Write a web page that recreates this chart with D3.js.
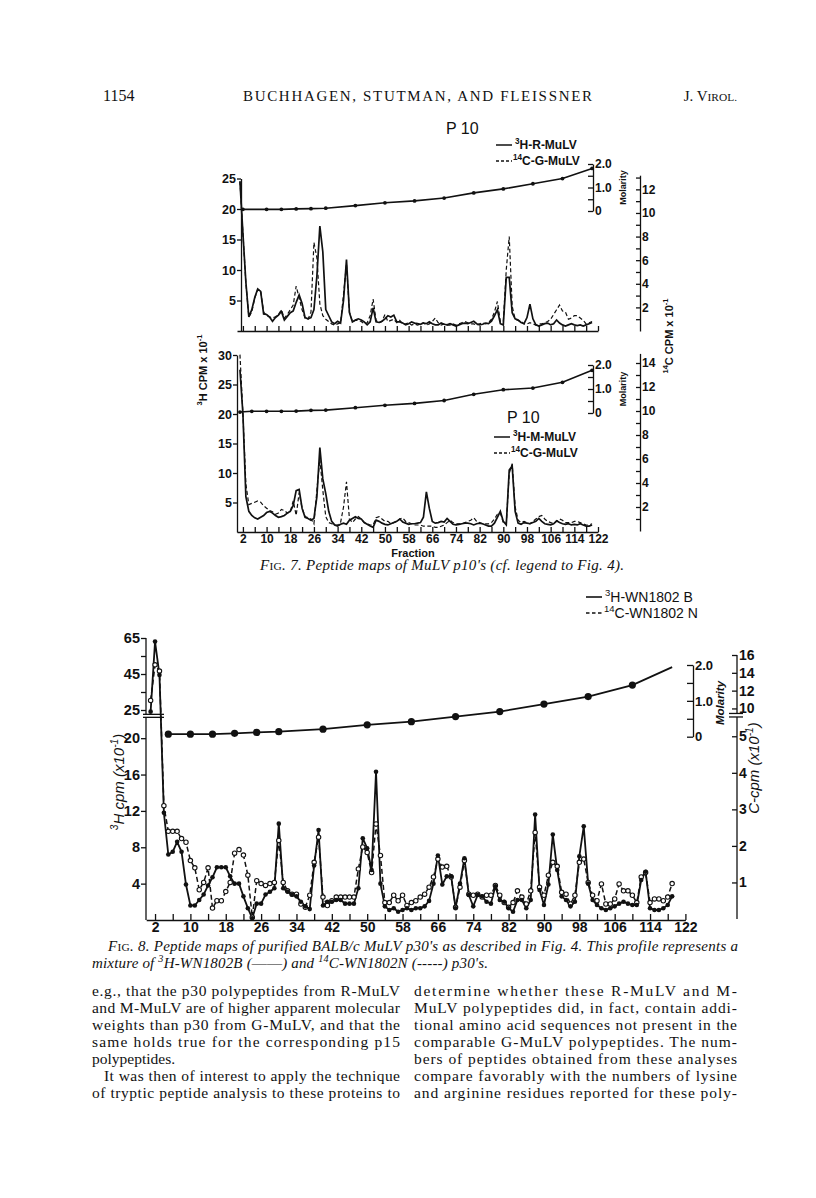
<!DOCTYPE html>
<html>
<head>
<meta charset="utf-8">
<script src="https://cdn.jsdelivr.net/npm/d3@7"></script>
<style>
  body { margin: 0; background: #fff; }
  svg { display: block; }
</style>
</head>
<body>
<svg id="page" width="816" height="1198"></svg>
<script>
// ---------- data ----------
// Fig. 7 top panel (P10, R-MuLV vs G-MuLV), fractions 1..120
var frac7 = d3.range(1, 121);
var rH3 = [24.5,16,8,2.3,3.5,5.5,6.9,6.5,2.8,2.7,
  2.3,1.6,2.2,2.6,3.2,1.8,2.4,3.0,3.3,4.7,
  5.9,4.5,2.2,2.0,2.2,3.5,9,17.2,13,3.5,
  2.5,1.5,1.2,1.6,1.3,5,11.7,3,1.5,1.8,
  2.0,1.8,1.5,1.0,1.5,3.8,1.5,1.4,1.6,2.0,
  2.5,2.3,2.6,1.5,1.5,1.3,1.0,1.2,1.5,1.3,
  1.2,1.1,1.3,1.2,1.5,1.2,1.0,1.0,1.3,1.1,
  1.0,1.2,1.0,0.8,1.0,1.2,1.3,1.2,1.4,1.6,
  1.2,1.0,1.1,1.3,1.2,1.6,2.5,3.5,1.2,1.0,
  8.8,8.8,3.0,2.0,1.8,1.4,1.2,2.2,4.4,2.0,
  1.0,0.8,1.0,1.2,1.3,1.0,1.2,1.8,1.3,1.0,
  0.8,1.0,1.2,1.0,0.9,1.0,0.8,1.0,1.2,1.4];
var rC14 = [12.7,8.3,4.1,1.2,1.6,2.8,3.5,3.4,1.6,1.3,
  1.2,1.1,1.2,1.4,1.8,1.1,1.4,1.8,2.2,3.8,
  2.8,1.8,1.1,1.0,1.6,7.5,6.2,2.3,1.3,1.0,
  0.8,0.6,0.5,0.6,0.7,3.1,5.7,1.6,0.8,0.9,
  0.9,0.8,0.6,0.7,1.3,2.7,0.9,0.7,0.8,1.4,
  0.8,0.9,1.0,0.7,0.9,0.6,0.6,0.7,0.5,0.6,
  0.5,0.6,0.7,0.5,0.6,0.8,1.1,0.7,0.5,0.6,
  0.5,0.5,0.6,0.5,0.6,0.7,0.8,0.7,0.6,0.6,
  0.5,0.6,0.7,0.6,0.7,1.0,1.6,2.5,0.8,0.8,
  5.2,8.0,2.1,1.0,0.9,0.8,0.6,0.6,0.7,0.6,
  0.5,0.6,0.6,0.7,0.8,1.0,1.4,1.8,2.2,1.7,
  1.6,1.0,1.1,1.3,1.3,1.1,0.9,0.6,0.7,0.8];
var molFrac7a = [2,10,15,20,25,30,40,50,60,70,80,90,100,110,120];
var molVal7a = [0.07,0.07,0.07,0.09,0.10,0.12,0.23,0.35,0.43,0.55,0.77,0.94,1.16,1.38,1.81];

// Fig. 7 bottom panel (P10, M-MuLV vs G-MuLV)
var mH3 = [27.5,20,6,3.5,2.8,2.4,2.2,2.5,2.8,3.3,
  3.5,3.2,2.8,2.5,2.6,2.8,3.2,3.5,4.5,7.0,
  7.2,4.0,2.5,2.3,2.0,2.3,6,14.3,9,6.5,
  3.5,1.8,1.2,1.0,1.3,1.5,1.3,2.0,2.3,2.6,
  2.3,2.2,1.6,1.3,1.0,0.8,2.0,1.8,1.5,1.3,
  1.2,1.4,1.6,1.8,2.2,1.7,1.5,1.3,1.4,1.4,
  1.5,1.6,2.5,6.8,4,1.8,1.5,1.6,1.8,1.7,
  2.3,1.8,1.3,1.2,1.3,1.4,1.5,1.5,1.4,1.2,
  1.4,1.5,1.4,1.2,1.0,1.0,1.5,2.5,3.5,1.8,
  1.2,10.5,11.2,3.5,1.5,1.3,1.6,1.5,1.4,1.6,
  1.8,2.3,1.8,1.4,1.3,1.2,1.4,1.9,1.6,1.4,
  1.3,1.4,1.2,1.3,1.2,1.4,1.2,1.0,1.0,1.2];
var mC14 = [14.7,9.8,3.9,2.2,2.3,2.4,2.5,2.4,2.1,1.9,
  1.7,1.6,1.4,1.5,1.8,1.7,1.5,1.6,2.5,1.3,
  3.2,1.9,1.2,1.1,1.0,0.6,3.4,6.0,3.4,1.2,
  0.7,0.6,0.5,0.5,0.7,2.0,4.1,1.0,0.7,1.0,
  1.2,1.0,0.7,0.6,0.5,0.5,1.1,1.2,1.0,0.8,
  0.8,0.6,0.7,0.8,1.0,1.1,0.8,0.7,0.6,0.5,
  0.5,0.5,0.4,0.4,0.4,0.4,0.3,0.3,0.4,0.5,
  0.7,0.9,0.7,0.6,0.6,0.6,0.7,0.8,0.9,1.1,
  0.8,0.7,0.6,0.6,0.6,0.7,1.0,1.4,1.5,0.7,
  0.6,4.8,5.6,2.0,0.9,0.7,0.8,0.7,0.6,0.8,
  1.0,1.2,1.3,1.0,0.8,0.7,0.6,0.8,1.0,0.9,
  0.7,0.7,0.7,0.8,0.8,0.7,0.6,0.5,0.5,0.6];
var molFrac7b = [1,5,10,15,20,25,30,40,50,60,70,80,90,100,110,120];
var molVal7b = [0.04,0.07,0.07,0.07,0.08,0.11,0.12,0.22,0.32,0.40,0.52,0.78,0.97,1.04,1.28,1.78];

// Fig. 8 (p30, WN1802 B vs WN1802 N), fractions 1..119
var frac8 = d3.range(1, 120);
var bH3 = [24.5,63,44.5,11.8,7.2,7.5,8.6,7.5,3.9,1.6,
  1.6,2.2,2.8,3.8,4.7,5.8,5.8,5.8,4.8,4.0,
  4.0,2.6,1.3,0.2,1.8,1.8,2.8,3.1,3.5,10.6,
  3.5,3.1,2.8,2.6,2.0,1.5,1.2,6.0,9.9,1.6,
  2.0,2.0,2.2,2.2,1.8,1.8,1.8,3.5,9.0,7.9,
  5.5,16.3,4.0,1.5,1.1,1.3,0.9,1.1,1.3,1.1,
  1.3,1.3,1.5,2.1,4.0,7.1,3.9,4.8,4.8,1.3,
  4.0,6.8,2.75,1.5,2.75,2.6,2.0,1.8,3.7,2.2,
  2.0,1.3,0.9,2.2,2.2,1.3,2.2,11.6,3.3,1.65,
  3.9,9.4,5.5,2.6,2.2,1.5,2.0,7.0,10.3,4.0,
  2.2,1.65,1.3,1.1,1.3,1.5,1.8,2.0,1.8,1.65,
  1.65,4.4,5.3,1.3,1.1,1.1,1.3,1.65,2.6];
var nC14 = [10.9,14.9,14.2,3.1,2.4,2.4,2.4,2.2,2.1,1.6,
  1.4,0.8,1.0,1.4,0.3,0.5,0.5,0.75,1.0,1.8,
  1.9,1.75,1.2,0.05,1.05,0.97,0.92,0.97,1.0,2.15,
  1.0,0.77,0.68,0.68,0.41,0.32,0.65,1.55,2.24,0.6,
  0.37,0.5,0.6,0.6,0.6,0.6,0.6,1.37,1.97,1.82,
  1.27,2.6,1.74,0.45,0.45,0.65,0.5,0.65,0.37,0.45,
  0.5,0.6,0.68,0.87,1.15,1.64,1.42,1.44,1.15,0.32,
  0.87,1.6,0.68,0.65,0.68,0.6,0.65,0.65,0.92,0.65,
  0.45,0.32,0.45,0.77,0.6,0.41,0.77,2.37,0.87,0.65,
  1.2,1.55,1.44,0.73,0.68,0.41,0.65,1.55,1.64,1.0,
  0.65,0.5,0.96,0.41,0.41,0.55,0.96,0.77,0.77,0.65,
  0.45,1.15,1.27,0.45,0.55,0.55,0.5,0.6,0.97];
var molFrac8 = [5,10,15,20,25,30,40,50,60,70,80,90,100,110,119];
var molVal8 = [0.07,0.07,0.07,0.095,0.12,0.14,0.21,0.33,0.42,0.56,0.70,0.91,1.12,1.44,1.94];

// tick labels
var fracTicks = d3.range(2, 123, 4);
var fracLabels = d3.range(2, 123, 8);

var SANS = "'Liberation Sans', Arial, sans-serif";
var SERIF = "'Liberation Serif', 'Times New Roman', serif";

var svg = d3.select("#page");
svg.append("rect").attr("width", 816).attr("height", 1198).attr("fill", "#fff");

// text helper: parts are strings or {t, sup, sc}
function addText(g, x, y, parts, o) {
  o = o || {};
  var size = o.size || 14;
  var t = g.append("text")
    .attr("x", x).attr("y", y)
    .attr("font-family", o.family || SANS)
    .attr("font-size", size)
    .attr("fill", "#111")
    .attr("text-anchor", o.anchor || "start");
  if (o.italic) t.attr("font-style", "italic");
  if (o.weight) t.attr("font-weight", o.weight);
  if (o.rotate) t.attr("transform", "rotate(" + o.rotate + "," + x + "," + y + ")");
  if (o.len) t.attr("textLength", o.len).attr("lengthAdjust", "spacing");
  var shift = 0;
  parts.forEach(function (p) {
    var s = typeof p === "string" ? { t: p } : p;
    var ts = t.append("tspan").text(s.t);
    var want = s.sup ? -size * 0.42 : 0;
    if (want !== shift) { ts.attr("dy", want - shift); shift = want; }
    if (s.sup) ts.attr("font-size", size * 0.68);
    if (s.sc) ts.attr("font-size", size * 0.76).attr("font-style", "normal");
    if (s.up) ts.attr("font-style", "normal");
  });
  return t;
}

function styleAxis(g, size, weight) {
  g.attr("font-family", SANS).attr("font-size", size);
  g.selectAll("text").attr("fill", "#111").attr("font-weight", weight || "normal");
  g.selectAll("line, path").attr("stroke", "#111").attr("stroke-width", 1.3);
}

// ---------- header ----------
addText(svg, 103, 101, ["1154"], { family: SERIF, size: 16 });
addText(svg, 243, 101, ["BUCHHAGEN, STUTMAN, AND FLEISSNER"], { family: SERIF, size: 15, len: 349 });
addText(svg, 737, 101, ["J. V", { t: "IROL.", sc: true }], { family: SERIF, size: 15, anchor: "end" });

// ---------- Fig. 7 ----------
var x7 = d3.scaleLinear().domain([0, 122]).range([237, 598]);

function peptidePanel(cfg) {
  var g = svg.append("g");
  // left 3H axis
  var la = g.append("g").attr("transform", "translate(" + cfg.leftX + ",0)")
    .call(d3.axisLeft(cfg.yL).tickValues(cfg.leftTicks).tickSize(4).tickSizeOuter(0).tickPadding(1));
  styleAxis(la, 12.5, 600);
  // x axis, ticks pointing up
  var xa = g.append("g").attr("transform", "translate(0," + cfg.yL(0) + ")")
    .call(d3.axisBottom(x7).tickValues(fracTicks).tickSize(-5).tickSizeOuter(0).tickPadding(2.5)
      .tickFormat(function (d) { return cfg.labels && fracLabels.indexOf(d) >= 0 ? d : ""; }));
  styleAxis(xa, 12, 600);
  // right 14C axis
  var ra = g.append("g").attr("transform", "translate(640,0)")
    .call(d3.axisRight(cfg.yR).tickValues(d3.range(1, cfg.rightMax + 1)).tickSize(-4).tickSizeOuter(0).tickPadding(2)
      .tickFormat(function (d) { return d % 2 === 0 ? d : ""; }));
  styleAxis(ra, 12, 600);
  // molarity axis
  var ma = g.append("g").attr("transform", "translate(593,0)")
    .call(d3.axisRight(cfg.m).tickValues([0, 0.5, 1, 1.5, 2]).tickSize(-5).tickSizeOuter(0).tickPadding(2)
      .tickFormat(function (d) { return d === 0 ? "0" : (d % 1 === 0 ? d.toFixed(1) : ""); }));
  styleAxis(ma, 12, 600);
  addText(g, 626, (cfg.m(0) + cfg.m(2)) / 2, ["Molarity"], { size: 9, weight: 700, anchor: "middle", rotate: -90 });

  // salt gradient
  var mol = cfg.molFrac.map(function (f, i) { return { f: f, v: cfg.molVal[i] }; });
  g.append("path").datum(mol)
    .attr("d", d3.line().x(function (d) { return x7(d.f); }).y(function (d) { return cfg.m(d.v); }))
    .attr("fill", "none").attr("stroke", "#111").attr("stroke-width", 1.6);
  g.selectAll(".md").data(mol).enter().append("circle")
    .attr("cx", function (d) { return x7(d.f); }).attr("cy", function (d) { return cfg.m(d.v); })
    .attr("r", 1.9).attr("fill", "#111");

  // 3H solid, 14C dashed
  var h = frac7.map(function (f, i) { return { f: f, v: cfg.h[i] }; });
  var c = frac7.map(function (f, i) { return { f: f, v: cfg.c[i] }; });
  g.append("path").datum(c)
    .attr("d", d3.line().x(function (d) { return x7(d.f); }).y(function (d) { return cfg.yR(d.v); }))
    .attr("fill", "none").attr("stroke", "#111").attr("stroke-width", 1.2).attr("stroke-dasharray", "4,2.5");
  g.append("path").datum(h)
    .attr("d", d3.line().x(function (d) { return x7(d.f); }).y(function (d) { return cfg.yL(d.v); }))
    .attr("fill", "none").attr("stroke", "#111").attr("stroke-width", 1.7);

  // legend
  var lx = cfg.legX, ly = cfg.legY;
  addText(g, cfg.titleX, cfg.titleY, ["P", " 10"], { size: 16 });
  g.append("line").attr("x1", lx).attr("x2", lx + 16).attr("y1", ly).attr("y2", ly)
    .attr("stroke", "#111").attr("stroke-width", 1.5);
  addText(g, lx + 19, ly + 4, [{ t: "3", sup: true }, cfg.hName], { size: 12, weight: 600 });
  g.append("line").attr("x1", lx).attr("x2", lx + 16).attr("y1", ly + 16).attr("y2", ly + 16)
    .attr("stroke", "#111").attr("stroke-width", 1.3).attr("stroke-dasharray", "3,2");
  addText(g, lx + 17, ly + 20, [{ t: "14", sup: true }, "C-G-MuLV"], { size: 12, weight: 600 });
  return g;
}

peptidePanel({
  yL: d3.scaleLinear().domain([0, 25]).range([331, 178.5]),
  yR: d3.scaleLinear().domain([0, 13.2]).range([331, 175.2]),
  m: d3.scaleLinear().domain([0, 2]).range([211, 164]),
  leftX: 241, leftTicks: [5, 10, 15, 20, 25], rightMax: 13, labels: false,
  molFrac: molFrac7a, molVal: molVal7a, h: rH3, c: rC14, hName: "H-R-MuLV",
  titleX: 446, titleY: 134, legX: 496, legY: 145
});
peptidePanel({
  yL: d3.scaleLinear().domain([0, 30]).range([532, 355]),
  yR: d3.scaleLinear().domain([0, 14.8]).range([531, 353.4]),
  m: d3.scaleLinear().domain([0, 2]).range([413, 365]),
  leftX: 237, leftTicks: [5, 10, 15, 20, 25, 30], rightMax: 14, labels: true,
  molFrac: molFrac7b, molVal: molVal7b, h: mH3, c: mC14, hName: "H-M-MuLV",
  titleX: 507, titleY: 423, legX: 494, legY: 437
});

addText(svg, 413, 557, ["Fraction"], { size: 11, weight: 700, anchor: "middle" });
addText(svg, 207, 370, [{ t: "3", sup: true }, "H   CPM x 10", { t: "-1", sup: true }], { size: 11, weight: 700, anchor: "middle", rotate: -90 });
addText(svg, 673, 336, [{ t: "14", sup: true }, "C    CPM x 10", { t: "-1", sup: true }], { size: 11, weight: 700, anchor: "middle", rotate: -90 });

addText(svg, 260, 570, ["F", { t: "IG", sc: true }, ". 7. Peptide maps of MuLV p10's (cf. legend to Fig. 4)."],
  { family: SERIF, size: 15, italic: true, len: 364 });

// ---------- Fig. 8 ----------
var x8 = d3.scaleLinear().domain([0, 122]).range([146.2, 685.4]);
// broken axes: lower and upper parts joined through a gap
var y8L = d3.scaleLinear().domain([0, 22, 25, 65]).range([920, 720, 710, 638]);
var y8R = d3.scaleLinear().domain([0, 5.5, 9.6, 16]).range([919, 718, 712, 655]);
var m8 = d3.scaleLinear().domain([0, 2]).range([736.7, 665]);

var f8 = svg.append("g");

var la8 = f8.append("g").attr("transform", "translate(146,0)")
  .call(d3.axisLeft(y8L).tickValues([4, 8, 12, 16, 20, 25, 35, 45, 55, 65]).tickSize(5).tickPadding(1)
    .tickFormat(function (d) { return (d === 35 || d === 55) ? "" : d; }));
styleAxis(la8, 14.5, 600);
la8.select(".domain").remove();
f8.append("line").attr("x1", 146).attr("x2", 146).attr("y1", y8L(0)).attr("y2", y8L(22.8))
  .attr("stroke", "#111").attr("stroke-width", 1.3);
f8.append("line").attr("x1", 146).attr("x2", 146).attr("y1", y8L(23.7)).attr("y2", y8L(65))
  .attr("stroke", "#111").attr("stroke-width", 1.3);
[22.8, 23.7].forEach(function (b) {
  f8.append("line").attr("x1", 143).attr("x2", 164).attr("y1", y8L(b)).attr("y2", y8L(b))
    .attr("stroke", "#111").attr("stroke-width", 1.3);
});

var ra8 = f8.append("g").attr("transform", "translate(737,0)")
  .call(d3.axisRight(y8R).tickValues([1, 2, 3, 4, 5, 10, 12, 14, 16]).tickSize(-5).tickPadding(2));
styleAxis(ra8, 14, 600);
ra8.select(".domain").remove();
f8.append("line").attr("x1", 737).attr("x2", 737).attr("y1", y8R(0)).attr("y2", y8R(6.2))
  .attr("stroke", "#111").attr("stroke-width", 1.3);
f8.append("line").attr("x1", 737).attr("x2", 737).attr("y1", y8R(8.6)).attr("y2", y8R(16))
  .attr("stroke", "#111").attr("stroke-width", 1.3);
[6.2, 8.6].forEach(function (b) {
  f8.append("line").attr("x1", 729).attr("x2", 743).attr("y1", y8R(b)).attr("y2", y8R(b))
    .attr("stroke", "#111").attr("stroke-width", 1.3);
});

var xa8 = f8.append("g").attr("transform", "translate(0,920)")
  .call(d3.axisBottom(x8).tickValues(fracTicks).tickSize(-6).tickSizeOuter(0).tickPadding(2)
    .tickFormat(function (d) { return fracLabels.indexOf(d) >= 0 ? d : ""; }));
styleAxis(xa8, 14, 600);

var ma8 = f8.append("g").attr("transform", "translate(693,0)")
  .call(d3.axisRight(m8).tickValues([0, 0.5, 1, 1.5, 2]).tickSize(-6).tickSizeOuter(0).tickPadding(2)
    .tickFormat(function (d) { return d === 0 ? "0" : (d % 1 === 0 ? d.toFixed(1) : ""); }));
styleAxis(ma8, 13, 600);

addText(f8, 724, 703, ["Molarity"], { size: 11.5, weight: 700, italic: true, anchor: "middle", rotate: -90 });
addText(f8, 124, 782, [{ t: "3", sup: true }, "H cpm (x10", { t: "-1", sup: true }, ")"], { size: 15, italic: true, anchor: "middle", rotate: -90 });
addText(f8, 759, 768, ["C-cpm (x10", { t: "-1", sup: true }, ")"], { size: 15, italic: true, anchor: "middle", rotate: -90 });

// gradient
var mol8 = molFrac8.map(function (f, i) { return { f: f, v: molVal8[i] }; });
f8.append("path").datum(mol8)
  .attr("d", d3.line().x(function (d) { return x8(d.f); }).y(function (d) { return m8(d.v); }))
  .attr("fill", "none").attr("stroke", "#111").attr("stroke-width", 1.8);
f8.selectAll(".m8").data(mol8.slice(0, mol8.length - 1)).enter().append("circle")
  .attr("cx", function (d) { return x8(d.f); }).attr("cy", function (d) { return m8(d.v); })
  .attr("r", 3.6).attr("fill", "#111");

var dN = frac8.map(function (f, i) { return { f: f, v: nC14[i] }; });
var dB = frac8.map(function (f, i) { return { f: f, v: bH3[i] }; });
f8.append("path").datum(dN)
  .attr("d", d3.line().x(function (d) { return x8(d.f); }).y(function (d) { return y8R(d.v); }))
  .attr("fill", "none").attr("stroke", "#111").attr("stroke-width", 1.5).attr("stroke-dasharray", "5,3");
f8.append("path").datum(dB)
  .attr("d", d3.line().x(function (d) { return x8(d.f); }).y(function (d) { return y8L(d.v); }))
  .attr("fill", "none").attr("stroke", "#111").attr("stroke-width", 1.8);
f8.selectAll(".pn").data(dN).enter().append("circle")
  .attr("cx", function (d) { return x8(d.f); }).attr("cy", function (d) { return y8R(d.v); })
  .attr("r", 2.2).attr("fill", "#fff").attr("stroke", "#111").attr("stroke-width", 1.1);
f8.selectAll(".pb").data(dB).enter().append("circle")
  .attr("cx", function (d) { return x8(d.f); }).attr("cy", function (d) { return y8L(d.v); })
  .attr("r", 2.3).attr("fill", "#111");

// legend
f8.append("line").attr("x1", 586).attr("x2", 602).attr("y1", 597).attr("y2", 597)
  .attr("stroke", "#111").attr("stroke-width", 1.6);
addText(f8, 605, 602, [{ t: "3", sup: true }, "H-WN1802 B"], { size: 14 });
f8.append("line").attr("x1", 586).attr("x2", 603).attr("y1", 613).attr("y2", 613)
  .attr("stroke", "#111").attr("stroke-width", 1.4).attr("stroke-dasharray", "3.5,2.5");
addText(f8, 604, 618, [{ t: "14", sup: true }, "C-WN1802 N"], { size: 14 });

// caption
addText(svg, 108, 951, ["F", { t: "IG", sc: true }, ". 8. Peptide maps of purified BALB/c MuLV p30's as described in Fig. 4. This profile represents a"],
  { family: SERIF, size: 15, italic: true, len: 630 });
addText(svg, 92, 968, ["mixture of ", { t: "3", sup: true }, "H-WN1802B (", { t: "——", up: true }, ") and ", { t: "14", sup: true }, "C-WN1802N (", { t: "-----", up: true }, ") p30's."],
  { family: SERIF, size: 15, italic: true, len: 396 });

// ---------- body text ----------
var leftCol = [
  ["e.g., that the p30 polypeptides from R-MuLV", 92, 308],
  ["and M-MuLV are of higher apparent molecular", 92, 308],
  ["weights than p30 from G-MuLV, and that the", 92, 308],
  ["same holds true for the corresponding p15", 92, 308],
  ["polypeptides.", 92, 0],
  ["It was then of interest to apply the technique", 104, 296],
  ["of tryptic peptide analysis to these proteins to", 92, 308]
];
var rightCol = [
  "determine whether these R-MuLV and M-",
  "MuLV polypeptides did, in fact, contain addi-",
  "tional amino acid sequences not present in the",
  "comparable G-MuLV polypeptides. The num-",
  "bers of peptides obtained from these analyses",
  "compare favorably with the numbers of lysine",
  "and arginine residues reported for these poly-"
];
leftCol.forEach(function (l, i) {
  addText(svg, l[1], 996 + i * 17, [l[0]], { family: SERIF, size: 15.5, len: l[2] || null });
});
rightCol.forEach(function (l, i) {
  addText(svg, 414, 996 + i * 17, [l], { family: SERIF, size: 15.5, len: 323 });
});
</script>
</body>
</html>
